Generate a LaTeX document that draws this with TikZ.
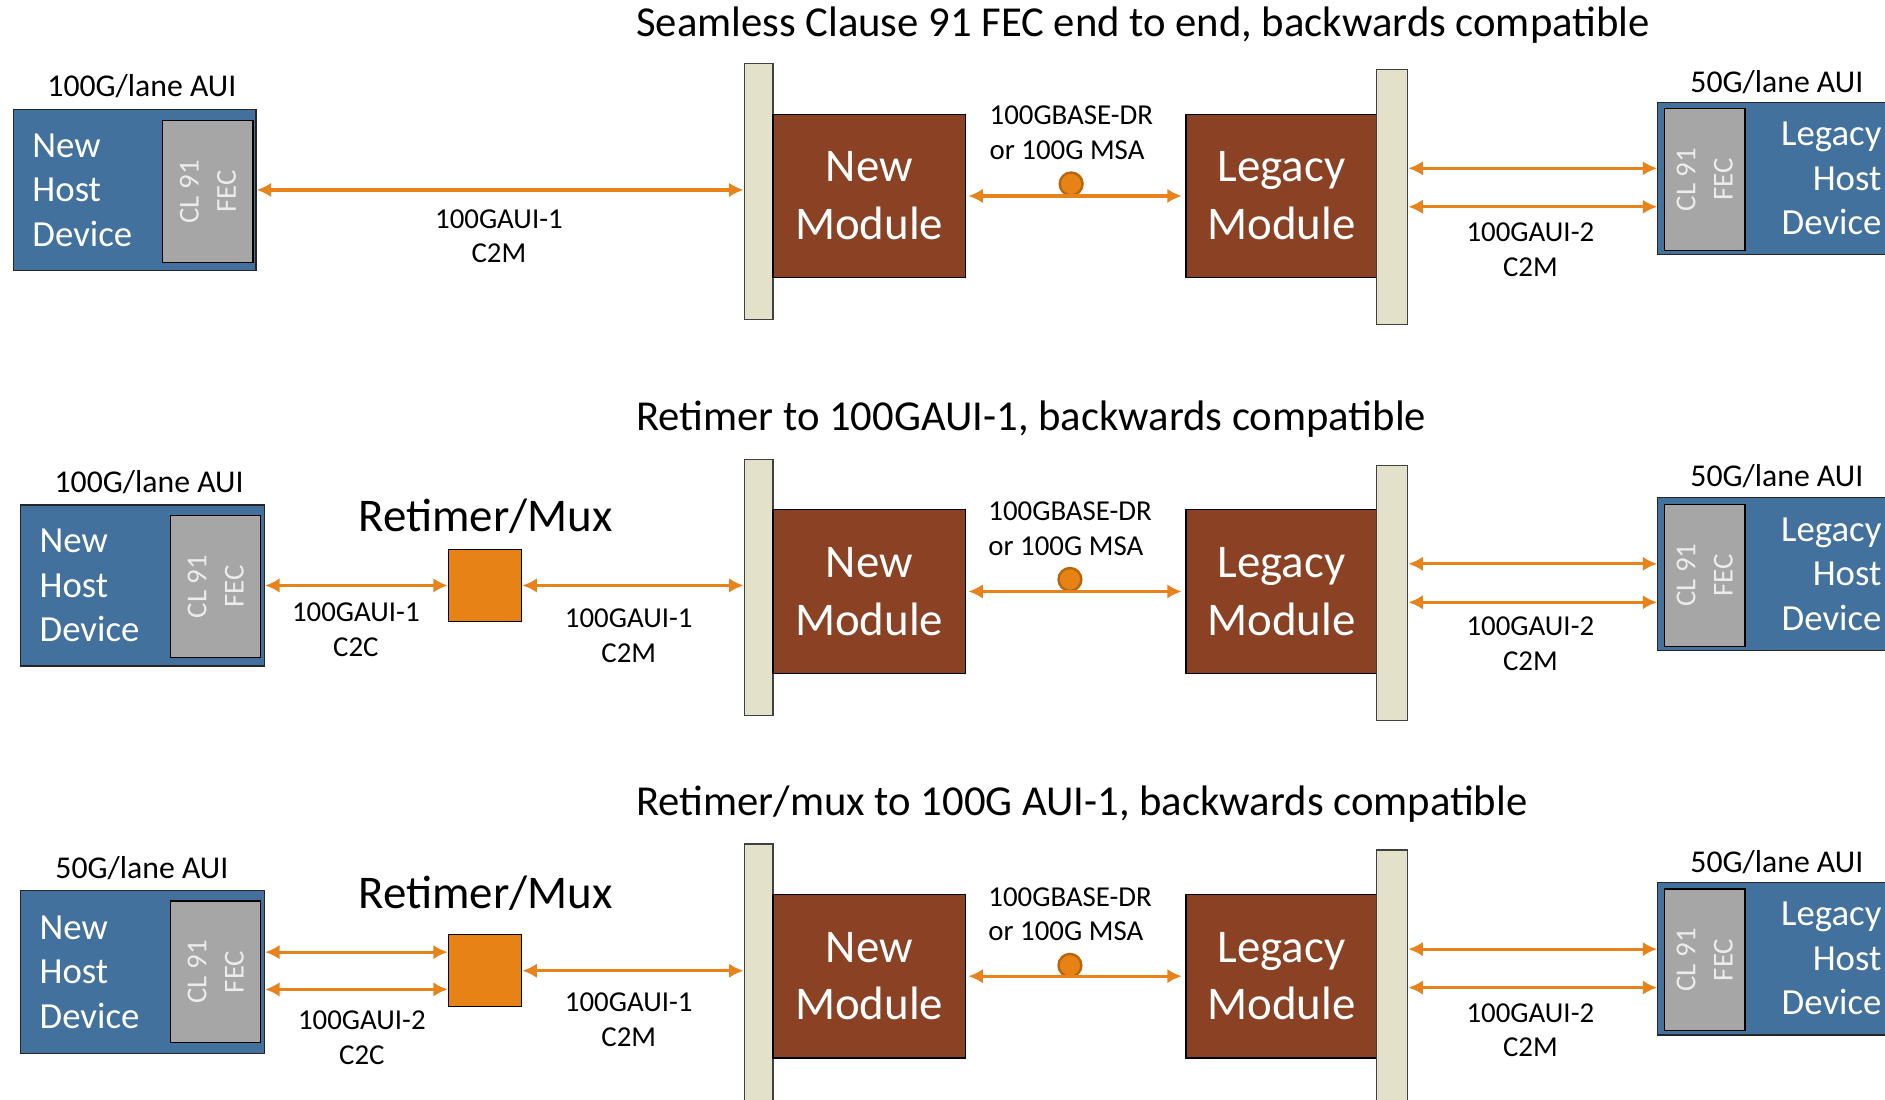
\documentclass[tikz,border=0pt]{standalone}
\usepackage{fontspec}
\setmainfont{Carlito}
\usetikzlibrary{arrows.meta}
\definecolor{hostblue}{RGB}{65,113,156}
\definecolor{fecgray}{RGB}{166,166,166}
\definecolor{fectext}{RGB}{236,236,236}
\definecolor{modbrown}{RGB}{139,65,35}
\definecolor{barbeige}{RGB}{227,225,202}
\definecolor{retorange}{RGB}{230,130,22}
\definecolor{wireorange}{RGB}{232,131,28}
\definecolor{fiberedge}{RGB}{184,102,12}

\begin{document}
\begin{tikzpicture}[
    x=1pt, y=-1pt,
    >={Latex[length=12pt,width=12pt]},
    hostbox/.style={draw=black!85, line width=1pt, fill=hostblue, text=white, font=\fontsize{30.6}{37}\selectfont, inner ysep=0pt, minimum height=134pt},
    fecbox/.style={draw=black, line width=1pt, fill=fecgray, text=fectext, font=\fontsize{24}{31}\selectfont, rotate=90, align=center, minimum width=118pt, minimum height=75pt, inner sep=0pt},
    modbox/.style={draw=black, line width=1pt, fill=modbrown, text=white, font=\fontsize{39}{48}\selectfont, align=center, minimum width=160pt, minimum height=136pt},
    barbox/.style={draw=black!75, line width=1pt, fill=barbeige, minimum width=24pt, minimum height=213pt, inner sep=0pt},
    retbox/.style={draw=black, line width=1pt, fill=retorange, minimum width=61pt, minimum height=60pt, inner sep=0pt},
    fiber/.style={circle, draw=fiberedge, line width=2pt, fill=retorange, minimum size=19pt, inner sep=0pt},
    link/.style={<->, draw=wireorange, line width=2.6pt},
    lbl/.style={font=\fontsize{24}{29}\selectfont, align=center, inner sep=0pt},
    auilbl/.style={font=\fontsize{26.4}{32}\selectfont, inner sep=0pt},
    retlbl/.style={font=\fontsize{39}{48}\selectfont, inner sep=0pt},
    rowtitle/.style={font=\fontsize{35.5}{42}\selectfont, anchor=west, inner sep=0pt},
]
\useasboundingbox (0,0) rectangle (1568,915);
\clip (0,0) rectangle (1568,915);

\node[rowtitle] (titlea) at (529,21) {Seamless Clause 91 FEC end to end, backwards compatible};
\node[auilbl] (auila) at (118,72) {100G/lane AUI};
\node[hostbox, text width=170pt, align=left, inner xsep=16pt] (hosta) at (112,158) {New\\Host\\Device};
\node[fecbox] (feca) at (173,159.5) {CL 91\\FEC};
\node[lbl] (c2ma) at (415,196.5) {100GAUI-1\\C2M};
\node[barbox] (lbara) at (631,159.5) {};
\node[modbox] (newmoda) at (723,163) {New\\Module};
\node[modbox, minimum width=159pt] (legmoda) at (1066,163) {Legacy\\Module};
\node[fiber] (fibera) at (891,153) {};
\node[lbl, align=left, anchor=west] (dra) at (823,110.5) {100GBASE-DR\\or 100G MSA};
\node[barbox, minimum width=26pt, minimum height=212pt] (rbara) at (1158,164) {};
\node[lbl] (c2mra) at (1273,207.5) {100GAUI-2\\C2M};
\node[auilbl] (auira) at (1478,68) {50G/lane AUI};
\node[hostbox, text width=161pt, align=right, inner xsep=25pt, minimum height=127pt] (lhosta) at (1484.5,148.5) {Legacy\\Host\\Device};
\node[fecbox, minimum height=67pt] (fecra) at (1418,149.5) {CL 91\\FEC};

\node[rowtitle] (titleb) at (529,349) {Retimer to 100GAUI-1, backwards compatible};
\node[auilbl] (auilb) at (124,401) {100G/lane AUI};
\node[hostbox, text width=171pt, align=left, inner xsep=16pt] (hostb) at (118.5,487) {New\\Host\\Device};
\node[fecbox] (fecb) at (179.5,488) {CL 91\\FEC};
\node[retlbl] (retlabelb) at (404,429) {Retimer/Mux};
\node[retbox] (retb) at (403.5,487) {};
\node[lbl] (c2cb) at (296,524) {100GAUI-1\\C2C};
\node[lbl] (c2mb) at (523,528.5) {100GAUI-1\\C2M};
\node[barbox] (lbarb) at (631,488.5) {};
\node[modbox] (newmodb) at (723,492) {New\\Module};
\node[modbox, minimum width=159pt] (legmodb) at (1066,492) {Legacy\\Module};
\node[fiber] (fiberb) at (890,482) {};
\node[lbl, align=left, anchor=west] (drb) at (822,440) {100GBASE-DR\\or 100G MSA};
\node[barbox, minimum width=26pt, minimum height=212pt] (rbarb) at (1158,493) {};
\node[lbl] (c2mrb) at (1273,535.5) {100GAUI-2\\C2M};
\node[auilbl] (auirb) at (1478,396) {50G/lane AUI};
\node[hostbox, text width=161pt, align=right, inner xsep=25pt, minimum height=127pt] (lhostb) at (1484.5,477.5) {Legacy\\Host\\Device};
\node[fecbox, minimum height=67pt] (fecrb) at (1418,478.5) {CL 91\\FEC};

\node[rowtitle] (titlec) at (529,669) {Retimer/mux to 100G AUI-1, backwards compatible};
\node[auilbl] (auilc) at (118,722) {50G/lane AUI};
\node[hostbox, text width=171pt, align=left, inner xsep=16pt, minimum height=135pt] (hostc) at (118.5,808.5) {New\\Host\\Device};
\node[fecbox] (fecc) at (179.5,808.5) {CL 91\\FEC};
\node[retlbl] (retlabelc) at (404,743) {Retimer/Mux};
\node[retbox] (retc) at (403.5,807.5) {};
\node[lbl] (c2cc) at (301,863) {100GAUI-2\\C2C};
\node[lbl] (c2mc) at (523,848.5) {100GAUI-1\\C2M};
\node[barbox, minimum height=228pt] (lbarc) at (631,816) {};
\node[modbox] (newmodc) at (723,812) {New\\Module};
\node[modbox, minimum width=159pt] (legmodc) at (1066,812) {Legacy\\Module};
\node[fiber] (fiberc) at (890,803) {};
\node[lbl, align=left, anchor=west] (drc) at (822,760.5) {100GBASE-DR\\or 100G MSA};
\node[barbox, minimum width=26pt, minimum height=223pt] (rbarc) at (1158,818.5) {};
\node[lbl] (c2mrc) at (1273,857) {100GAUI-2\\C2M};
\node[auilbl] (auirc) at (1478,717) {50G/lane AUI};
\node[hostbox, text width=161pt, align=right, inner xsep=25pt, minimum height=127pt] (lhostc) at (1484.5,797.5) {Legacy\\Host\\Device};
\node[fecbox, minimum height=67pt] (fecrc) at (1418,798.5) {CL 91\\FEC};

\coordinate (upa) at ([yshift=8.5pt]lhosta.west);
\coordinate (downa) at ([yshift=-23.5pt]lhosta.west);
\coordinate (upb) at ([yshift=8.5pt]lhostb.west);
\coordinate (downb) at ([yshift=-23.5pt]lhostb.west);
\coordinate (upc) at ([yshift=8pt]lhostc.west);
\coordinate (downc) at ([yshift=-24pt]lhostc.west);
\coordinate (laneup) at ([yshift=15.5pt]retc.west);
\coordinate (lanedown) at ([yshift=-15.5pt]retc.west);

\draw[link] (hosta.east) -- (hosta.east -| lbara.west);
\draw[link, shorten <=2pt, shorten >=3pt] (newmoda.east) -- (legmoda.west);
\draw[link] (upa -| rbara.east) -- (upa);
\draw[link] (downa -| rbara.east) -- (downa);

\draw[link] (hostb.east) -- (retb.west);
\draw[link] (retb.east) -- (retb.east -| lbarb.west);
\draw[link, shorten <=2pt, shorten >=3pt] (newmodb.east) -- (legmodb.west);
\draw[link] (upb -| rbarb.east) -- (upb);
\draw[link] (downb -| rbarb.east) -- (downb);

\draw[link] (laneup -| hostc.east) -- (laneup);
\draw[link] (lanedown -| hostc.east) -- (lanedown);
\draw[link] (retc.east) -- (retc.east -| lbarc.west);
\draw[link, shorten <=2pt, shorten >=3pt] (newmodc.east) -- (legmodc.west);
\draw[link] (upc -| rbarc.east) -- (upc);
\draw[link] (downc -| rbarc.east) -- (downc);

\end{tikzpicture}
\end{document}
